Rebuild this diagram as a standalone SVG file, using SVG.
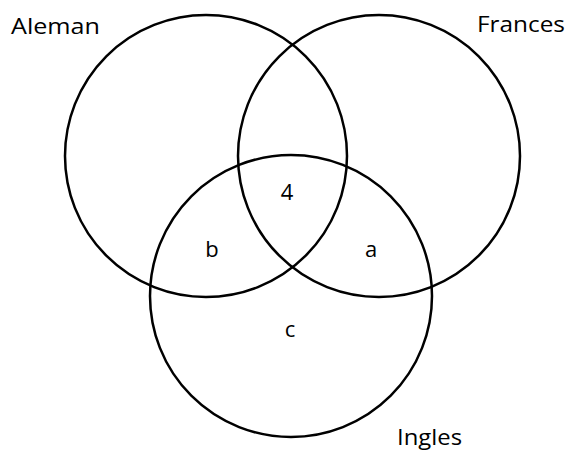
<svg xmlns="http://www.w3.org/2000/svg" width="569" height="453" viewBox="0 0 569 453">
<style>
.c{fill:none;stroke:#000;stroke-width:2.5}
.t{font-family:"Open Sans","Liberation Sans",sans-serif;font-size:22px;fill:#000}
.m{text-anchor:middle}
</style>
<rect width="569" height="453" fill="#fff"/>
<g id="aleman"><circle class="c" cx="206" cy="156" r="141"/><text class="t" x="11" y="34" textLength="89" lengthAdjust="spacingAndGlyphs">Aleman</text></g>
<g id="frances"><circle class="c" cx="379" cy="156" r="141"/><text class="t" x="477" y="32" textLength="88" lengthAdjust="spacingAndGlyphs">Frances</text></g>
<g id="ingles"><circle class="c" cx="291" cy="296" r="141"/><text class="t" x="397" y="445" textLength="65" lengthAdjust="spacingAndGlyphs">Ingles</text></g>
<g id="labels">
<text class="t m" x="287" y="200">4</text>
<text class="t m" x="212" y="257">b</text>
<text class="t m" x="371" y="257">a</text>
<text class="t m" x="290" y="337">c</text>
</g>
</svg>
